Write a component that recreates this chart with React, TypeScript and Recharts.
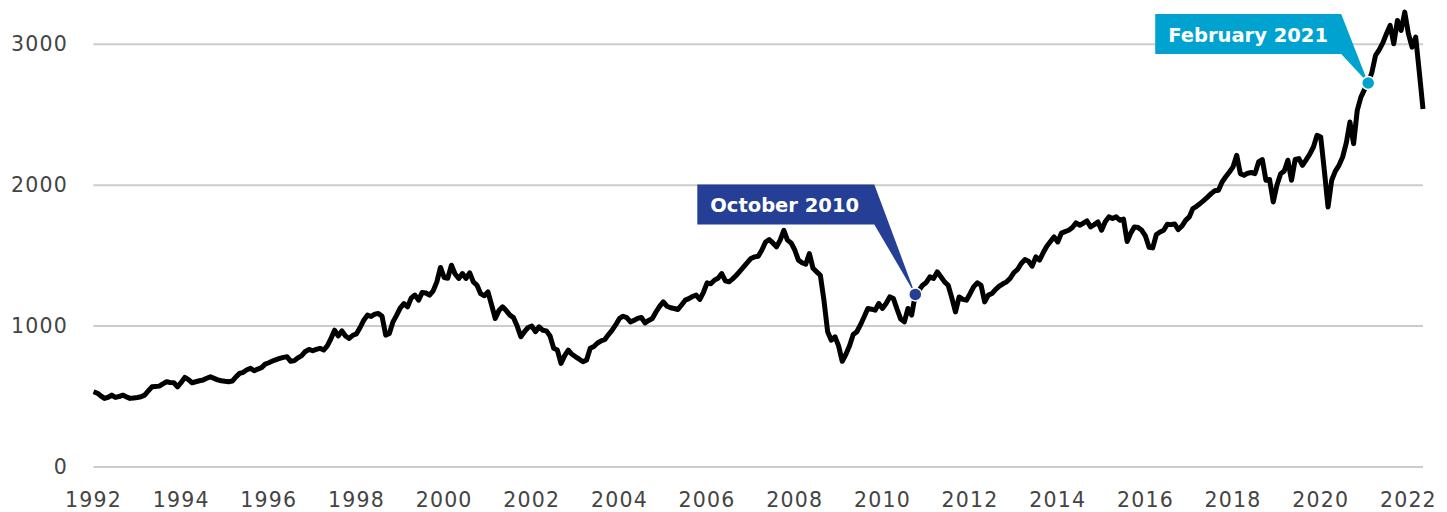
import React from 'react';
import { CartesianGrid, Line, LineChart, ReferenceDot, XAxis, YAxis } from 'recharts';

// monthly values, Jan 1992 - May 2022 (one row per year)
const values1990s = [
  534, 525, 505, 487, 495, 510, 494, 500, 510, 498, 487, 490,
  493, 498, 510, 540, 569, 572, 574, 590, 605, 600, 598, 569,
  600, 636, 620, 598, 605, 612, 617, 630, 640, 629, 618, 612,
  608, 605, 610, 640, 664, 672, 690, 700, 683, 695, 705, 730,
  740, 752, 762, 771, 778, 782, 750, 755, 775, 790, 820, 834,
  825, 835, 842, 830, 860, 910, 971, 930, 966, 930, 912, 935,
  945, 990, 1042, 1078, 1068, 1085, 1090, 1070, 936, 948, 1030, 1078,
  1130, 1160, 1137, 1200, 1220, 1184, 1239, 1235, 1220, 1250, 1314, 1416,
];

const values2000s = [
  1345, 1340, 1432, 1370, 1338, 1373, 1338, 1378, 1314, 1290, 1230, 1215,
  1243, 1150, 1054, 1110, 1137, 1110, 1078, 1060, 1000, 924, 960, 990,
  1000, 960, 995, 970, 966, 930, 842, 830, 735, 790, 830, 800,
  782, 765, 747, 760, 842, 855, 880, 895, 905, 940, 971, 1010,
  1054, 1070, 1060, 1030, 1040, 1055, 1061, 1023, 1040, 1054, 1100, 1140,
  1172, 1141, 1130, 1125, 1118, 1150, 1184, 1195, 1210, 1220, 1189, 1240,
  1307, 1300, 1326, 1340, 1373, 1321, 1314, 1335, 1361, 1390, 1420, 1450,
  1480, 1491, 1496, 1540, 1597, 1614, 1590, 1562, 1610, 1680, 1610, 1590,
  1540, 1468, 1450, 1439, 1515, 1410, 1385, 1361, 1180, 960, 900, 924,
  860, 750, 800, 860, 940, 960, 1010, 1066, 1125, 1120, 1113, 1160,
];

const values2010s = [
  1125, 1160, 1207, 1196, 1120, 1050, 1030, 1125, 1078, 1225, 1255, 1290,
  1310, 1349, 1338, 1385, 1350, 1314, 1290, 1200, 1101, 1207, 1190, 1184,
  1230, 1280, 1307, 1290, 1172, 1220, 1231, 1260, 1283, 1300, 1314, 1340,
  1380, 1402, 1444, 1472, 1460, 1425, 1491, 1468, 1520, 1567, 1600, 1633,
  1597, 1660, 1670, 1680, 1700, 1732, 1716, 1730, 1746, 1704, 1720, 1739,
  1680, 1740, 1775, 1763, 1775, 1751, 1760, 1600, 1660, 1704, 1700, 1680,
  1640, 1560, 1555, 1650, 1668, 1680, 1723, 1720, 1725, 1685, 1710, 1750,
  1775, 1834, 1850, 1870, 1893, 1915, 1940, 1960, 1964, 2023, 2060, 2094,
  2130, 2212, 2082, 2070, 2085, 2090, 2082, 2165, 2182, 2035, 2040, 1881,
  2000, 2080, 2101, 2177, 2035, 2182, 2189, 2141, 2180, 2220, 2271, 2354,
];

const values2020s = [
  2342, 2100, 1845, 2035, 2100, 2141, 2200, 2300, 2448, 2295, 2531, 2625,
  2680, 2725, 2800, 2921, 2960, 3010, 3075, 3134, 3004, 3169, 3098, 3228,
  3075, 2980, 3051, 2800, 2540,
];

const yearTicks = [1992, 1994, 1996, 1998, 2000, 2002, 2004, 2006, 2008, 2010, 2012, 2014, 2016, 2018, 2020, 2022];
const valueTicks = [0, 1000, 2000, 3000];

const callouts = [
  { label: 'October 2010', year: 2010, month: 9, color: '#243f95', box: [-218, -41, -110, -70] },
  { label: 'February 2021', year: 2021, month: 1, color: '#00a3cf', box: [-213, -27, -69, -29] },
];

const allValues = [...values1990s, ...values2000s, ...values2010s, ...values2020s];
const data = allValues.map((v, i) => ({ t: 1992 + i / 12, value: v }));
const lastT = data[data.length - 1].t;

const FONT = '"DejaVu Sans", sans-serif';

const YTick = (props: any) => (
  <text x={68} y={props.y} dy={7} textAnchor="end" fontFamily={FONT} fontSize={20.5} letterSpacing={1.2} fill="#444">
    {props.payload.value}
  </text>
);

const XTick = (props: any) => (
  <text x={props.x} y={507} textAnchor="middle" fontFamily={FONT} fontSize={20.5} letterSpacing={1.2} fill="#444">
    {props.payload.value}
  </text>
);

function calloutShape(label: string, color: string, box: number[]) {
  return (props: any) => {
    const { cx, cy } = props;
    const [l, r, t, b] = box;
    const pts = [
      [cx + l, cy + t],
      [cx + r, cy + t],
      [cx, cy],
      [cx + r, cy + b],
      [cx + l, cy + b],
    ].map((p) => p.join(',')).join(' ');
    return (
      <g>
        <polygon points={pts} fill={color} />
        <text x={cx + l + 13} y={cy + t + 27.5} fontFamily={FONT} fontWeight="bold" fontSize={19.5} fill="#fff">
          {label}
        </text>
        <circle cx={cx} cy={cy} r={6.5} fill={color} stroke="#fff" strokeWidth={1.5} />
      </g>
    );
  };
}

export default function App() {
  return (
    <div style={{ position: 'absolute', left: 0, top: 0, background: '#fff' }}>
      <LineChart width={1447} height={512} data={data} margin={{ top: 2, right: 24, bottom: 0, left: 0 }}>
        <CartesianGrid vertical={false} horizontalValues={valueTicks} stroke="#cccccc" strokeWidth={2} />
        <XAxis
          dataKey="t"
          type="number"
          domain={[1992, lastT]}
          ticks={yearTicks}
          tick={XTick}
          tickLine={false}
          axisLine={false}
          height={45}
          interval={0}
        />
        <YAxis
          type="number"
          domain={[0, 3300]}
          ticks={valueTicks}
          tick={YTick}
          tickLine={false}
          axisLine={false}
          width={93.5}
          interval={0}
        />
        <Line
          type="linear"
          dataKey="value"
          stroke="#000"
          strokeWidth={5}
          strokeLinejoin="round"
          dot={false}
          isAnimationActive={false}
        />
        {callouts.map((c) => {
          const idx = (c.year - 1992) * 12 + c.month;
          return (
            <ReferenceDot
              key={c.label}
              x={data[idx].t}
              y={data[idx].value}
              r={6.5}
              shape={calloutShape(c.label, c.color, c.box)}
            />
          );
        })}
      </LineChart>
    </div>
  );
}
